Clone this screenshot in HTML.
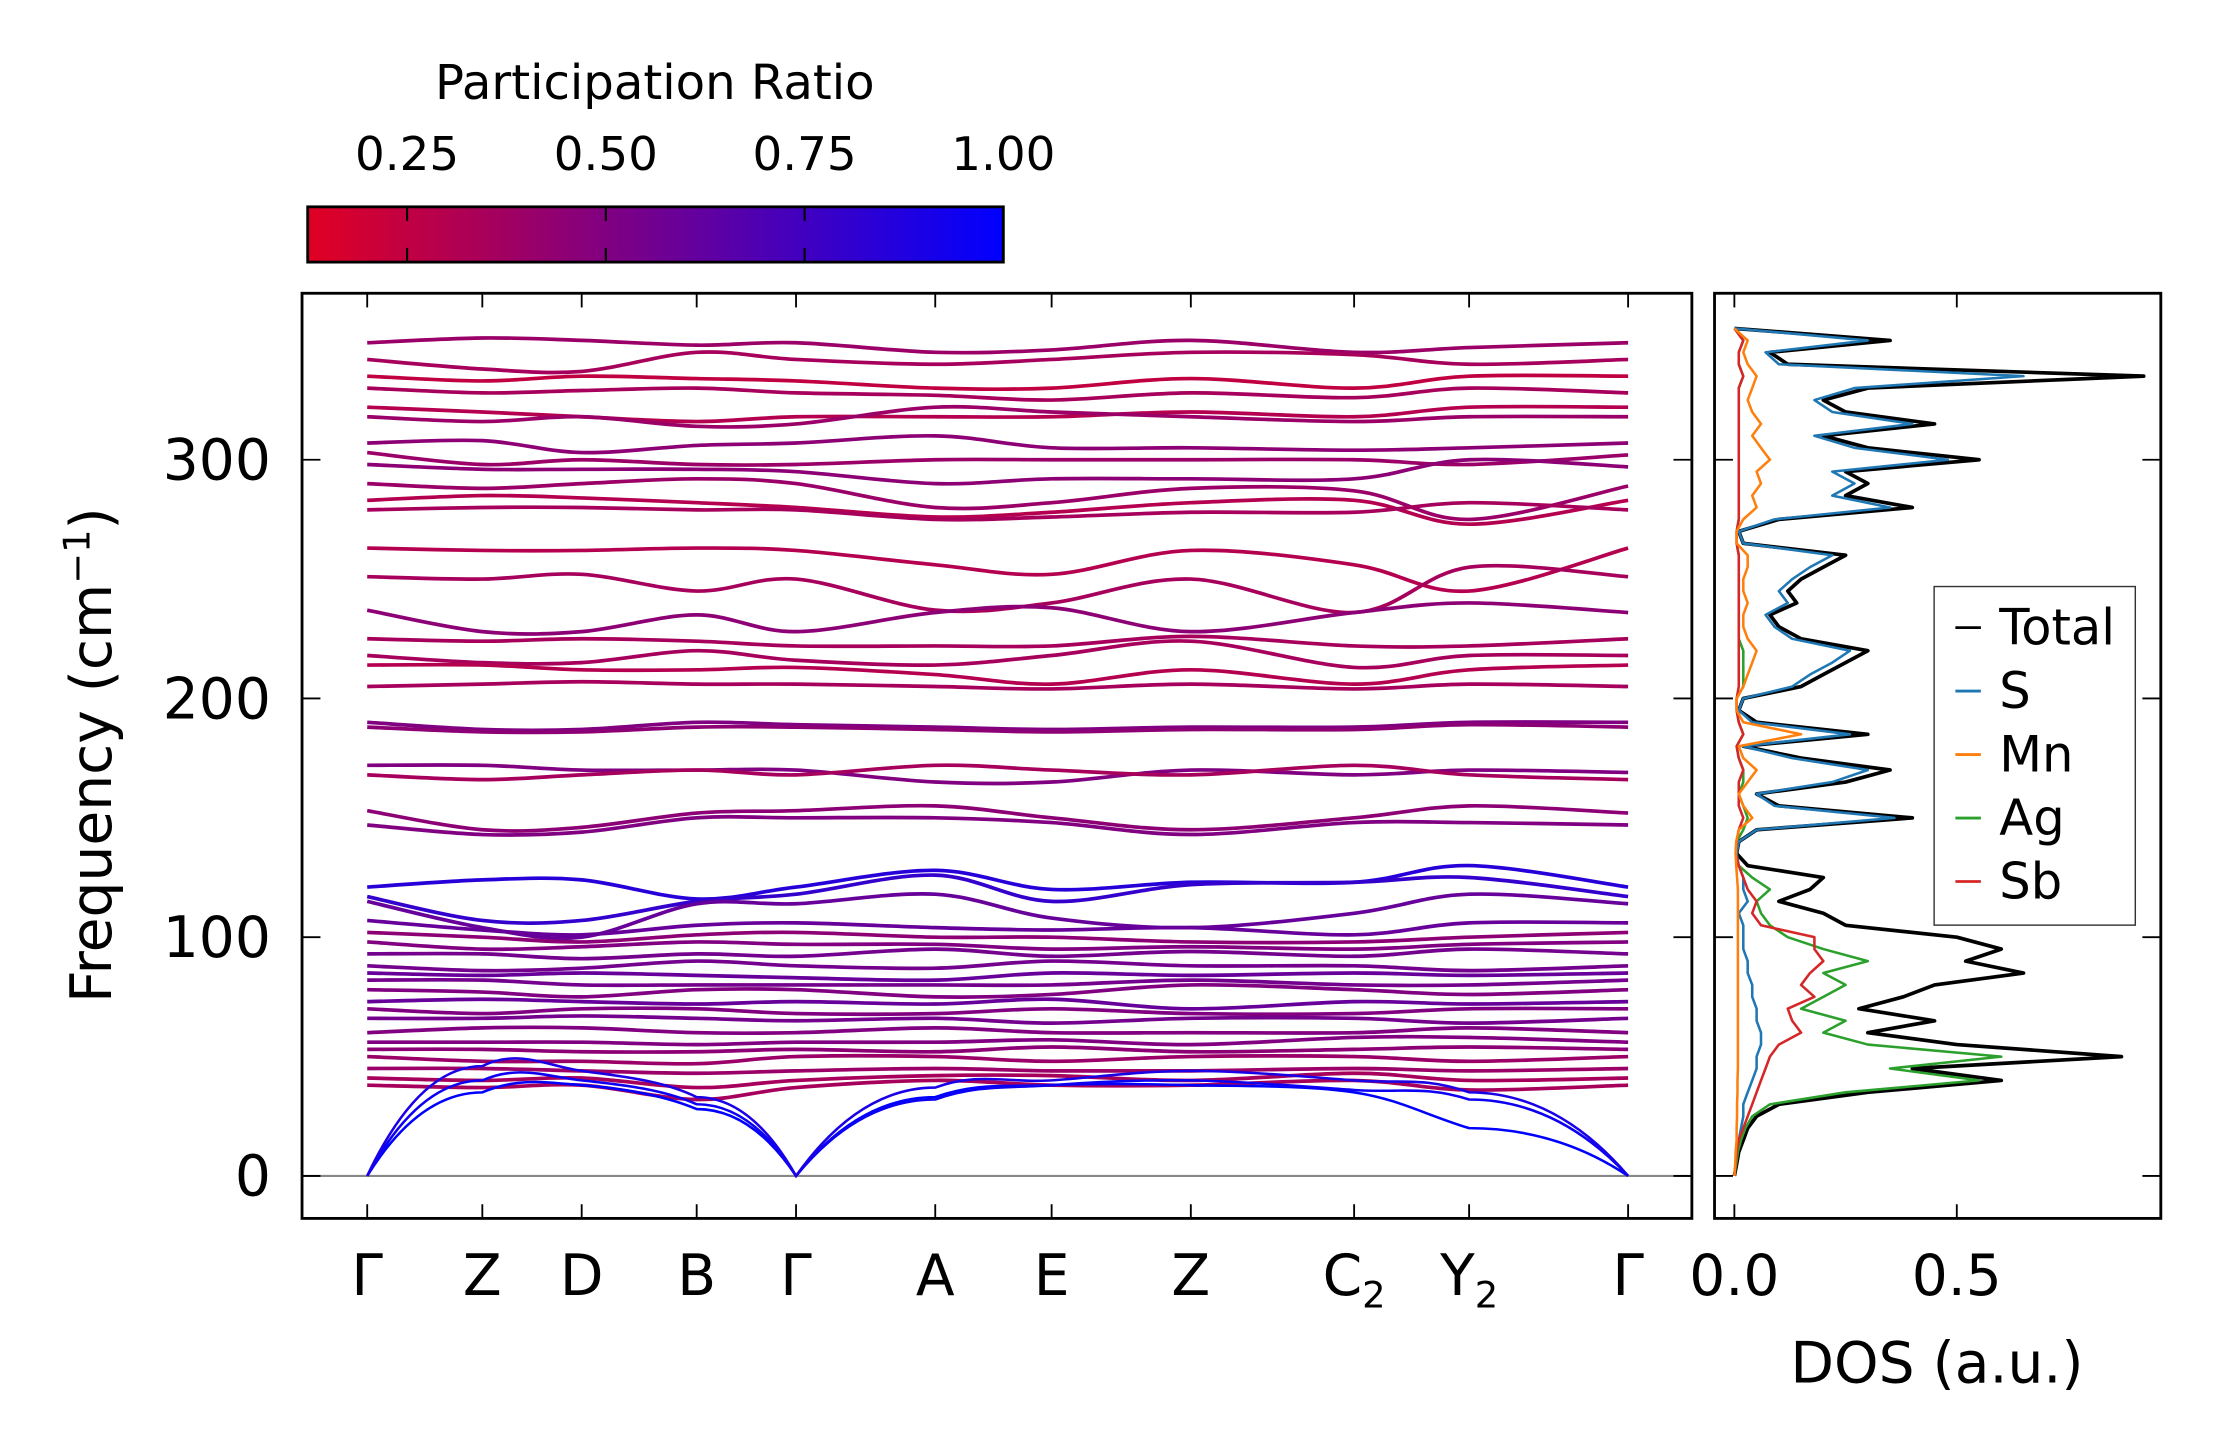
<!DOCTYPE html>
<html><head><meta charset="utf-8"><style>
html,body{margin:0;padding:0;background:#fff}
svg{display:block;font-family:"DejaVu Sans","Liberation Sans",sans-serif}
</style></head><body>
<svg id="fig" width="2222" height="1455" viewBox="0 0 1568 1027" xmlns="http://www.w3.org/2000/svg">
<defs>
<linearGradient id="cbg" x1="0" x2="1" y1="0" y2="0"><stop offset="0" stop-color="rgb(225,0,35)"/><stop offset="1" stop-color="rgb(0,0,255)"/></linearGradient>
<clipPath id="mainclip"><rect x="213" y="207" width="981" height="653"/></clipPath>
<clipPath id="dosclip"><rect x="1210" y="207" width="315" height="653"/></clipPath>
</defs>
<g>
<text x="462" y="70" font-size="34" text-anchor="middle">Participation Ratio</text>
<rect x="217" y="146" width="491" height="39" fill="url(#cbg)" stroke="#000" stroke-width="2"/>
<g id="cbticks"></g>
</g>
<g id="main">
<line x1="213" x2="1194" y1="830" y2="830" stroke="#888" stroke-width="1.5"/>
<g id="bands" clip-path="url(#mainclip)"></g>
<rect x="213" y="207" width="981" height="653" fill="none" stroke="#000" stroke-width="2"/>
<g id="mainaxes"></g>
<text transform="translate(78,533) rotate(-90)" font-size="40" text-anchor="middle">Frequency (cm<tspan dy="-15" font-size="26">−1</tspan><tspan dy="15">)</tspan></text>
</g>
<g id="dos">
<g id="doslines" clip-path="url(#dosclip)"></g>
<rect x="1210" y="207" width="315" height="653" fill="none" stroke="#000" stroke-width="2"/>
<g id="dosaxes"></g>
<text x="1367" y="976" font-size="40" text-anchor="middle">DOS (a.u.)</text>
<g>
<rect x="1365" y="414" width="142" height="239" fill="#fff" stroke="#333" stroke-width="1"/>
<g id="legend"></g>
</g>
</g>
</svg>
<script>
const kLabels=["Γ","Z","D","B","Γ","A","E","Z","C","Y","Γ"];
const kSubs=["","","","","","","","","2","2",""];
const kPos=[0,0.0913,0.1701,0.2613,0.3401,0.4505,0.5428,0.6532,0.7827,0.8739,1.0];
const bandFreqs=[
[349,351,350,348,349,345,346,350,345,347,349],
[342,338,337,345,342,340,342,345,344,340,342],
[335,333,335,334,333,330,330,334,330,335,335],
[330,328,329,330,328,327,325,328,326,330,328],
[322,320,318,316,318,318,318,320,318,322,322],
[318,316,318,314,315,322,320,318,316,318,318],
[307,308,303,306,307,310,305,305,304,305,307],
[303,298,300,298,298,300,300,300,300,298,302],
[298,296,296,296,295,290,292,292,292,300,297],
[290,288,290,292,290,280,282,288,287,275,289],
[283,285,284,282,280,276,278,282,283,273,283],
[279,280,280,279,279,275,276,278,278,282,279],
[263,262,262,263,262,256,252,262,256,245,263],
[251,250,252,245,250,237,240,250,236,255,251],
[237,228,228,235,228,236,238,228,236,240,236],
[225,224,225,224,222,222,222,226,222,222,225],
[218,215,215,220,216,214,218,224,213,218,218],
[214,214,212,212,213,210,206,212,206,212,214],
[205,206,207,206,206,205,204,206,204,206,205],
[190,187,187,190,189,188,187,188,188,190,190],
[188,186,186,188,188,187,186,187,187,189,188],
[172,172,170,170,170,165,165,170,168,170,169],
[168,166,168,170,168,172,170,168,172,168,166],
[153,145,146,152,153,155,150,145,150,155,152],
[147,143,144,150,150,150,148,143,148,148,147],
[121,124,124,116,121,128,120,123,123,130,121],
[117,107,107,115,118,126,115,122,123,125,117],
[115,104,100,114,114,118,108,104,110,118,114],
[107,103,101,105,106,104,103,104,101,106,106],
[102,100,98,101,102,100,100,98,98,100,102],
[98,95,96,98,97,97,95,96,95,97,98],
[93,93,91,93,92,95,92,94,92,95,93],
[88,86,87,90,88,87,90,88,88,86,88],
[85,84,85,84,83,82,85,84,85,84,85],
[82,82,80,80,80,80,80,82,80,80,82],
[78,77,75,78,78,75,76,80,78,76,78],
[73,74,73,72,73,72,74,70,73,72,73],
[70,68,70,70,68,68,70,68,68,70,70],
[66,66,67,66,65,66,64,66,66,64,66],
[60,62,62,60,60,62,60,60,60,62,60],
[56,56,56,55,56,56,57,55,58,58,56],
[53,53,52,52,53,52,54,52,53,54,53],
[50,48,48,47,50,50,48,50,50,48,50],
[45,45,44,43,44,45,44,44,45,44,45],
[41,40,41,37,40,42,42,40,43,40,41],
[38,37,38,32,37,40,38,38,40,36,38],
[0,35,38,28,0,33,38,38,35,20,0],
[0,40,40,30,0,32,38,40,36,32,0],
[0,46,44,33,0,37,40,44,40,35,0]];
const bandPR=[.4,.35,.25,.35,.3,.4,.45,.4,.45,.4,.3,.35,.3,.35,.45,.35,.35,.3,.35,.5,.45,.5,.35,.45,.5,
.85,.8,.6,.6,.45,.5,.55,.55,.6,.55,.5,.6,.5,.55,.5,.5,.45,.4,.4,.35,.35,1.0,.95,.9];
const yTicks=[0,100,200,300];
const cbTicks=[0.25,0.5,0.75,1.0];
const dosFreqStep=5;
const dosTotal=[0,.005,.01,.02,.03,.05,.1,.3,.6,.4,.87,.5,.3,.45,.28,.38,.45,.65,.52,.6,.5,.25,.2,.1,.17,.2,.03,.005,.01,.05,.4,.1,.05,.25,.35,.15,.02,.3,.05,.01,.02,.15,.2,.25,.3,.15,.1,.08,.14,.12,.15,.2,.25,.02,.01,.1,.4,.25,.3,.25,.55,.3,.2,.45,.25,.2,.3,.92,.12,.08,.35,0];
const dosS=[0,.003,.005,.01,.015,.02,.02,.03,.04,.05,.05,.06,.06,.05,.05,.04,.04,.03,.03,.02,.02,.02,.01,.03,.02,.02,.01,.005,.01,.05,.36,.09,.05,.22,.3,.13,.02,.26,.04,.01,.02,.13,.17,.22,.26,.13,.09,.07,.12,.1,.13,.17,.22,.02,.01,.09,.35,.22,.27,.22,.48,.27,.18,.4,.22,.18,.27,.65,.1,.07,.3,0];
const dosMn=[0,.002,.003,.005,.005,.006,.006,.007,.007,.008,.008,.008,.008,.008,.008,.008,.008,.008,.008,.008,.008,.008,.008,.008,.008,.006,.004,.003,.004,.01,.04,.02,.01,.03,.05,.02,.01,.15,.02,.005,.005,.02,.03,.04,.05,.03,.02,.02,.03,.02,.02,.03,.03,.005,.005,.02,.05,.04,.06,.05,.08,.06,.04,.06,.04,.03,.04,.05,.03,.02,.03,0];
const dosAg=[0,.004,.008,.015,.025,.04,.08,.25,.55,.35,.6,.3,.2,.25,.15,.2,.25,.2,.3,.2,.12,.08,.06,.05,.08,.04,.01,.003,.005,.02,.03,.02,.01,.02,.02,.01,.005,.02,.01,.005,.005,.02,.02,.02,.02,.01,.01,.01,.01,.01,.01,.01,.01,.005,.005,.01,.01,.01,.01,.01,.01,.01,.01,.01,.01,.01,.01,.02,.01,.01,.02,0];
const dosSb=[0,.003,.005,.01,.02,.03,.04,.05,.06,.07,.08,.1,.15,.13,.12,.18,.15,.17,.2,.18,.18,.06,.04,.05,.03,.02,.01,.003,.005,.01,.02,.01,.01,.01,.02,.01,.005,.02,.01,.005,.005,.01,.01,.01,.01,.01,.01,.01,.01,.01,.01,.01,.01,.005,.005,.01,.01,.01,.01,.01,.01,.01,.01,.01,.01,.01,.01,.02,.01,.01,.02,0];
const dosTicks=[0,0.5];
const seriesNames=["Total","S","Mn","Ag","Sb"];
const seriesColors=["#000000","#1f77b4","#ff7f0e","#2ca02c","#d62728"];

const NS="http://www.w3.org/2000/svg";
function mk(tag,attrs,parent){const e=document.createElementNS(NS,tag);for(const k in attrs)e.setAttribute(k,attrs[k]);parent.appendChild(e);return e;}
const X0=259,X1=1149;
const xK=t=>X0+t*(X1-X0);
const yF=f=>830-f*1.685;
const xD=v=>1224+v*314;
const xCB=v=>217+(v-0.125)/0.875*491;
function prColor(p){const t=Math.max(0,Math.min(1,(p-0.125)/0.875));return `rgb(${Math.round(225*(1-t))},0,${Math.round(35+220*t)})`;}

const cbt=document.getElementById('cbticks');
cbTicks.forEach(v=>{const x=xCB(v);
 if(v<1){
  const l=mk('line',{x1:x,x2:x,y1:146,y2:156,stroke:'#000','stroke-width':1.5},cbt);
  
  
  const l2=mk('line',{x1:x,x2:x,y1:175,y2:185,stroke:'#000','stroke-width':1.5},cbt);
  
  
 }
 const t=mk('text',{x:x,y:120,'font-size':33,'text-anchor':'middle'},cbt);
 t.textContent=v.toFixed(2);
 
 
});

const bg=document.getElementById('bands');
bandFreqs.forEach((fr,bi)=>{
 const pts=fr.map((f,i)=>[xK(kPos[i]),yF(f)]);
 let d=`M${pts[0][0]},${pts[0][1]}`;
 for(let i=0;i<pts.length-1;i++){
  const p0=pts[Math.max(0,i-1)],p1=pts[i],p2=pts[i+1],p3=pts[Math.min(pts.length-1,i+2)];
  if(fr[i]===0){d+=` Q${p1[0]+(p2[0]-p1[0])*0.45},${p2[1]} ${p2[0]},${p2[1]}`;continue;}
  if(fr[i+1]===0){d+=` Q${p2[0]-(p2[0]-p1[0])*0.45},${p1[1]} ${p2[0]},${p2[1]}`;continue;}
  const c1=[p1[0]+(p2[0]-p0[0])/6,p1[1]+(p2[1]-p0[1])/6];
  const c2=[p2[0]-(p3[0]-p1[0])/6,p2[1]-(p3[1]-p1[1])/6];
  d+=` C${c1[0]},${c1[1]} ${c2[0]},${c2[1]} ${p2[0]},${p2[1]}`;
 }
 const p=mk('path',{d:d,fill:'none',stroke:prColor(bandPR[bi]),'stroke-width':bandPR[bi]>0.89?1.8:2.6},bg);
 
 
});

const ma=document.getElementById('mainaxes');
kPos.forEach((t,i)=>{const x=xK(t);
 const a=mk('line',{x1:x,x2:x,y1:860,y2:850,stroke:'#000','stroke-width':1.3},ma);
 
 
 const b=mk('line',{x1:x,x2:x,y1:207,y2:217,stroke:'#000','stroke-width':1.3},ma);
 
 
 const tx=mk('text',{x:x,y:914,'font-size':40,'text-anchor':'middle'},ma);
 
 
 tx.textContent=kLabels[i];
 if(kSubs[i]){const s=mk('tspan',{dy:9,'font-size':26},tx);s.textContent=kSubs[i];}
});
yTicks.forEach(v=>{const y=yF(v);
 const a=mk('line',{x1:213,x2:226,y1:y,y2:y,stroke:'#000','stroke-width':1.3},ma);
 
 
 const b=mk('line',{x1:1181,x2:1194,y1:y,y2:y,stroke:'#000','stroke-width':1.3},ma);
 
 
 const c=mk('line',{x1:1210,x2:1223,y1:y,y2:y,stroke:'#000','stroke-width':1.3},ma);
 
 
 const e=mk('line',{x1:1512,x2:1525,y1:y,y2:y,stroke:'#000','stroke-width':1.3},ma);
 
 
 const t=mk('text',{x:191,y:y+14,'font-size':40,'text-anchor':'end'},ma);
 t.textContent=v;
 
 
});

const da=document.getElementById('dosaxes');
dosTicks.forEach(v=>{const x=xD(v);
 const a=mk('line',{x1:x,x2:x,y1:860,y2:850,stroke:'#000','stroke-width':1.3},da);
 
 
 const b=mk('line',{x1:x,x2:x,y1:207,y2:217,stroke:'#000','stroke-width':1.3},da);
 
 
 const t=mk('text',{x:x,y:914,'font-size':40,'text-anchor':'middle'},da);
 t.textContent=v.toFixed(1);
 
 
});
const dl=document.getElementById('doslines');
const allDos=[dosTotal,dosS,dosMn,dosAg,dosSb];
[0,1,3,4,2].forEach(si=>{
 const arr=allDos[si];
 const pts=arr.map((v,i)=>`${xD(v).toFixed(1)},${yF(i*dosFreqStep).toFixed(1)}`).join(' ');
 const pl=mk('polyline',{points:pts,fill:'none',stroke:seriesColors[si],'stroke-width':si===0?2.6:1.8,'stroke-linejoin':'round'},dl);
 
 
});
const lg=document.getElementById('legend');
seriesNames.forEach((n,i)=>{const y=443+i*44.8;
 const g=mk('g',{},lg);
 
 
 mk('line',{x1:1380,x2:1398,y1:y,y2:y,stroke:seriesColors[i],'stroke-width':2},g);
 const t=mk('text',{x:1411,y:y+12,'font-size':35},g);
 t.textContent=n;
});
</script>
</body></html>
